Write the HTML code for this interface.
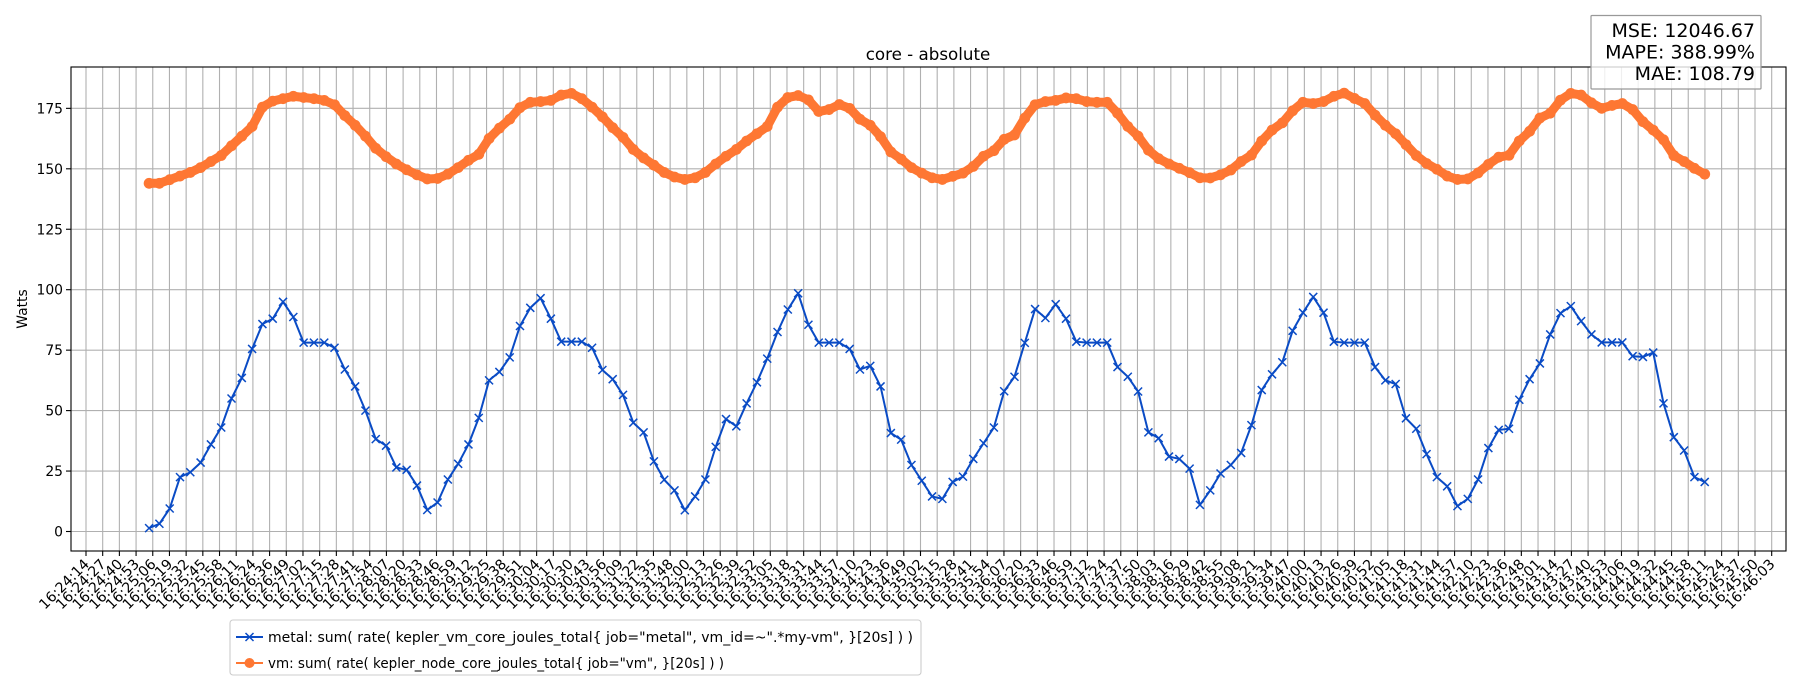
<!DOCTYPE html>
<html><head><meta charset="utf-8"><style>
html,body{margin:0;padding:0;background:#fff;}
svg{display:block;font-family:"DejaVu Sans","Liberation Sans",sans-serif;}
</style></head><body>
<svg id="chart" width="1800" height="700" viewBox="0 0 1800 700" xmlns="http://www.w3.org/2000/svg">
<rect x="0" y="0" width="1800" height="700" fill="#fff"/>
<g id="grid"></g>
<g id="series"></g>
<rect x="71" y="67" width="1715" height="484" fill="none" stroke="#000" stroke-width="1.1"/>
<g id="axes"></g>
<text x="928" y="60" font-size="16.7" text-anchor="middle">core - absolute</text>
<text transform="translate(27,309) rotate(-90)" font-size="13.9" text-anchor="middle">Watts</text>
<g>
<rect x="1591" y="15.5" width="170" height="73.5" fill="#fff" fill-opacity="0.8" stroke="#999" stroke-width="1.2" rx="1"/>
<text x="1755" y="37" font-size="19" text-anchor="end">MSE: 12046.67</text>
<text x="1755" y="58.5" font-size="19" text-anchor="end">MAPE: 388.99%</text>
<text x="1755" y="80" font-size="19" text-anchor="end">MAE: 108.79</text>
</g>
<g>
<rect x="230" y="620" width="691" height="55" fill="#fff" stroke="#ccc" stroke-width="1.1" rx="3"/>
<g>
<line x1="236" y1="637" x2="263" y2="637" stroke="#0a4bc5" stroke-width="2"/>
<path d="M245.5,633 l8,8 M253.5,633 l-8,8" stroke="#0a4bc5" stroke-width="1.5"/>
<text x="268" y="642" font-size="13.9" textLength="645" lengthAdjust="spacingAndGlyphs">metal: sum( rate( kepler_vm_core_joules_total{ job="metal", vm_id=~".*my-vm", }[20s] ) )</text>
</g>
<g>
<line x1="236" y1="663" x2="263" y2="663" stroke="#fe7733" stroke-width="2"/>
<circle cx="249.5" cy="663" r="5" fill="#fe7733"/>
<text x="268" y="668" font-size="13.9" textLength="456" lengthAdjust="spacingAndGlyphs">vm: sum( rate( kepler_node_core_joules_total{ job="vm", }[20s] ) )</text>
</g>
</g>
</svg>
<script>
const tickLabels = ["16:24:14","16:24:27","16:24:40","16:24:53","16:25:06","16:25:19","16:25:32","16:25:45","16:25:58","16:26:11","16:26:24","16:26:36","16:26:49","16:27:02","16:27:15","16:27:28","16:27:41","16:27:54","16:28:07","16:28:20","16:28:33","16:28:46","16:28:59","16:29:12","16:29:25","16:29:38","16:29:51","16:30:04","16:30:17","16:30:30","16:30:43","16:30:56","16:31:09","16:31:22","16:31:35","16:31:48","16:32:00","16:32:13","16:32:26","16:32:39","16:32:52","16:33:05","16:33:18","16:33:31","16:33:44","16:33:57","16:34:10","16:34:23","16:34:36","16:34:49","16:35:02","16:35:15","16:35:28","16:35:41","16:35:54","16:36:07","16:36:20","16:36:33","16:36:46","16:36:59","16:37:12","16:37:24","16:37:37","16:37:50","16:38:03","16:38:16","16:38:29","16:38:42","16:38:55","16:39:08","16:39:21","16:39:34","16:39:47","16:40:00","16:40:13","16:40:26","16:40:39","16:40:52","16:41:05","16:41:18","16:41:31","16:41:44","16:41:57","16:42:10","16:42:23","16:42:36","16:42:48","16:43:01","16:43:14","16:43:27","16:43:40","16:43:53","16:44:06","16:44:19","16:44:32","16:44:45","16:44:58","16:45:11","16:45:24","16:45:37","16:45:50","16:46:03"];
const yTicks = [0,25,50,75,100,125,150,175];
const sampleStartSec = 49;
const sampleStepSec = 8;
const metalValues = [1.4,3.2,9.5,22.5,24.5,28.5,36,43,55,63.5,75.5,85.8,88,95,88.7,78.1,78.1,78.1,76,67,60,50,38.2,35.5,26.5,25.5,19,8.9,12,21.5,28,36,47,62.5,66,72,85,92.5,96.5,88,78.5,78.5,78.5,76,66.8,63,56.5,45,41,29,21.4,17,8.8,14.5,21.5,35,46.5,43.5,53,61.7,71.5,82.5,91.8,98.5,85.5,78.1,78.1,78.1,75.5,67,68.5,60,40.7,38,27.5,21,14.5,13.5,20.5,22.7,30,36.5,43,58,64,78,92,88.3,94,88,78.5,78.1,78.1,78.1,68,64,57.9,41,38.6,31,30,26,11,17,24,27.5,32.5,44,58.5,65,70,83,90.5,97,90.5,78.5,78.1,78.1,78.1,68,62.5,61,46.8,42.5,32,22.5,18.7,10.5,13.5,21.5,34.5,42,42.5,54.5,63,69.5,81.5,90.3,93.2,87,81.5,78.2,78.2,78.2,72.5,72.2,74,53,39,33.5,22.5,20.5];
const vmValues = [144,144,145.5,147,148.5,150.5,153,155.5,159.5,163.5,167.5,175.5,178,179,180,179.5,179,178.3,176.5,172,168,163.5,158.5,155,152,149.6,147.5,145.8,146,147.8,150.5,153.5,156,162.5,166.8,170.5,175.3,177.5,177.8,178.3,180.5,181.2,179,175.5,171.5,167,163,158,154.5,151.5,148.5,146.6,145.6,146.3,148.5,152,155.2,158,161.5,164.5,167.5,175.5,179.5,180.3,178.5,173.7,174.5,176.6,175,170.5,168,163.3,157,154,150.5,148.2,146.3,145.6,146.9,148.2,151,155.2,157.5,162.2,164,171,176.5,177.8,178.3,179.3,179,177.8,177.5,177.5,173,167.5,163.5,157.7,154.2,152,150.2,148.4,146.3,146.2,147.5,149.5,153,155.7,161.5,166,169,174,177.5,177,177.8,180,181.3,179.1,177,172.2,168,164.5,160,155.5,152.2,149.8,147,145.6,145.8,148.3,151.8,154.8,155.6,161.5,165.5,171,173,178.4,181.2,180.5,177.3,175,176.2,177,174.5,169.5,166,162,155.5,153,150.2,147.8];

const NS = "http://www.w3.org/2000/svg";
const PLOT = {left:71, right:1786, top:67, bottom:551};
const TICK0X = 86, TICKDX = 16.69, TICKDT = 12.9604;
function xOfSec(t){ return TICK0X + t * (TICKDX / TICKDT); }
function yOfVal(v){ return 531.5 - v * 2.418; }
function mk(tag, attrs, parent){ const e=document.createElementNS(NS,tag); for(const k in attrs) e.setAttribute(k,attrs[k]); parent.appendChild(e); return e; }

const grid = document.getElementById('grid');
const axes = document.getElementById('axes');
const series = document.getElementById('series');

tickLabels.forEach((lab,i)=>{
  const x = xOfSec(i*TICKDT);
  const gl = mk('line',{x1:x,y1:PLOT.top,x2:x,y2:PLOT.bottom,stroke:'#b0b0b0','stroke-width':1.1},grid);
  
  
  const tk = mk('line',{x1:x,y1:PLOT.bottom,x2:x,y2:PLOT.bottom+5,stroke:'#000','stroke-width':1.1},axes);
  
  
  const t = mk('text',{x:x+4,y:PLOT.bottom+14,'font-size':14.2,'text-anchor':'end',transform:`rotate(-45 ${x+4} ${PLOT.bottom+14})`},axes);
  t.textContent = lab;
  
  
});
yTicks.forEach(v=>{
  const y = yOfVal(v);
  const gl = mk('line',{x1:PLOT.left,y1:y,x2:PLOT.right,y2:y,stroke:'#b0b0b0','stroke-width':1.1},grid);
  
  
  const tk = mk('line',{x1:PLOT.left-5,y1:y,x2:PLOT.left,y2:y,stroke:'#000','stroke-width':1.1},axes);
  
  
  const t = mk('text',{x:PLOT.left-8,y:y+5,'font-size':13.9,'text-anchor':'end'},axes);
  t.textContent = String(v);
  
  
});

function pts(vals){ return vals.map((v,k)=>[xOfSec(sampleStartSec+k*sampleStepSec), yOfVal(v)]); }

const vmP = pts(vmValues);
const vmLine = mk('polyline',{points:vmP.map(p=>p.join(',')).join(' '),fill:'none',stroke:'#fe7733','stroke-width':9,'stroke-linejoin':'round','stroke-linecap':'round'},series);


vmP.forEach(p=>{
  const c = mk('circle',{cx:p[0],cy:p[1],r:5.4,fill:'#fe7733'},series);
  
  
});
const mP = pts(metalValues);
const mLine = mk('polyline',{points:mP.map(p=>p.join(',')).join(' '),fill:'none',stroke:'#0a4bc5','stroke-width':2,'stroke-linejoin':'round'},series);


mP.forEach(p=>{
  const m = mk('path',{d:`M${p[0]-4},${p[1]-4} l8,8 M${p[0]+4},${p[1]-4} l-8,8`,stroke:'#0a4bc5','stroke-width':1.5},series);
  
  
});
</script>
</body></html>
